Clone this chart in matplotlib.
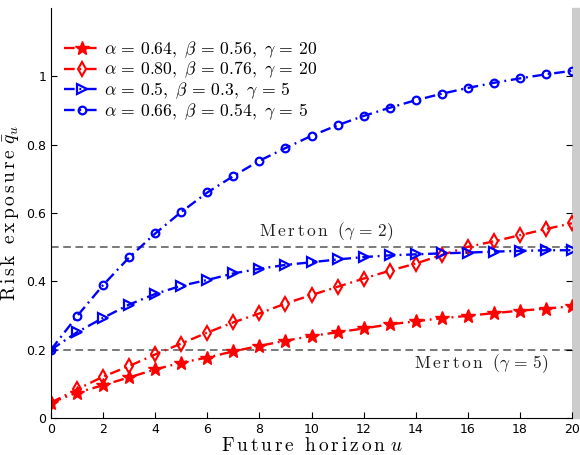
import numpy as np
import matplotlib.pyplot as plt
from matplotlib.patches import Rectangle

plt.rcParams['mathtext.fontset'] = 'cm'

u = np.arange(0, 21)

# alpha = 0.64, beta = 0.56, gamma = 20
star = [0.045, 0.074, 0.096, 0.119, 0.142, 0.162, 0.177, 0.195, 0.211, 0.226, 0.240,
        0.251, 0.262, 0.274, 0.283, 0.292, 0.299, 0.307, 0.314, 0.320, 0.327]
# alpha = 0.80, beta = 0.76, gamma = 20
diamond = [0.045, 0.084, 0.121, 0.152, 0.186, 0.218, 0.250, 0.280, 0.306, 0.335, 0.360,
           0.384, 0.408, 0.431, 0.452, 0.477, 0.501, 0.517, 0.535, 0.553, 0.570]
# alpha = 0.5, beta = 0.3, gamma = 5
tri = [0.200, 0.251, 0.293, 0.332, 0.363, 0.387, 0.404, 0.423, 0.437, 0.448, 0.456,
       0.464, 0.471, 0.476, 0.479, 0.482, 0.484, 0.487, 0.489, 0.491, 0.491]
# alpha = 0.66, beta = 0.54, gamma = 5
circ = [0.200, 0.298, 0.389, 0.470, 0.540, 0.603, 0.660, 0.708, 0.753, 0.790, 0.826,
        0.857, 0.884, 0.908, 0.930, 0.949, 0.966, 0.981, 0.994, 1.006, 1.016]

merton = [0.5, 0.2]

labels = [r'$\alpha\,=\,0.64,\ \beta\,=\,0.56,\ \gamma\,=\,20$',
          r'$\alpha\,=\,0.80,\ \beta\,=\,0.76,\ \gamma\,=\,20$',
          r'$\alpha\,=\,0.5,\ \beta\,=\,0.3,\ \gamma\,=\,5$',
          r'$\alpha\,=\,0.66,\ \beta\,=\,0.54,\ \gamma\,=\,5$']

fig = plt.figure(figsize=(5.8, 4.55), dpi=100)
ax = fig.add_axes([51/580, 1 - 418/455, 521/580, 410/455])

ls = (0, (4.5, 2, 0.8, 2))
ax.plot(u, star, color='red', ls=ls, lw=1.7, marker='*', ms=10, label=labels[0])
ax.plot(u, diamond, color='red', ls=ls, lw=1.7, marker='d', ms=7, mfc='none', mew=1.5, label=labels[1])
ax.plot(u, tri, color='blue', ls=ls, lw=1.7, marker='>', ms=7, mfc='none', mew=1.6, label=labels[2])
ax.plot(u, circ, color='blue', ls=ls, lw=1.7, marker='o', ms=5.5, mfc='none', mew=1.6, label=labels[3])

for m in merton:
    ax.axhline(m, color='#555555', ls=(0, (5, 3)), lw=1.1, zorder=0)

ax.text(10.55, 0.512, r'$\mathrm{M\,e\,r\,t\,o\,n}\ \ (\gamma\,=\,2)$', fontsize=12.5,
        color='#222222', ha='center', va='bottom')
ax.text(16.5, 0.16, r'$\mathrm{M\,e\,r\,t\,o\,n}\ \ (\gamma\,=\,5)$', fontsize=12.5,
        color='#222222', ha='center', va='center')

ax.set_xlim(0, 20)
ax.set_ylim(0, 1.2)
ax.set_xticks(np.arange(0, 21, 2))
ax.set_yticks([0, 0.2, 0.4, 0.6, 0.8, 1])
ax.set_yticklabels(['0', '0.2', '0.4', '0.6', '0.8', '1'])
ax.tick_params(direction='in', labelsize=9, length=4, right=True)
ax.spines['top'].set_visible(False)
ax.spines['right'].set_visible(False)

ax.set_xlabel(r'$\mathrm{F\,u\,t\,u\,r\,e\ \ h\,o\,r\,i\,z\,o\,n}\ u$', fontsize=14, labelpad=0)
ax.set_ylabel(r'$\mathrm{R\,i\,s\,k\ \ e\,x\,p\,o\,s\,u\,r\,e}\ \bar{q}_u$', fontsize=14, labelpad=4)

ax.legend(loc='upper left', bbox_to_anchor=(0.018, 0.932), frameon=False, fontsize=12.7,
          handlelength=2.0, borderaxespad=0, borderpad=0.2, labelspacing=0.0,
          handletextpad=0.3)

fig.patches.append(Rectangle((572/580, 1 - 418/455), 8/580, 410/455,
                             transform=fig.transFigure, color='#cccccc', zorder=-1))

fig.savefig('out.png', dpi=100)
